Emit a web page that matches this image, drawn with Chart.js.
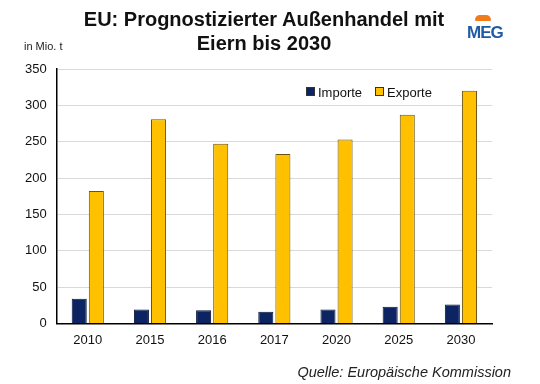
<!DOCTYPE html>
<html>
<head>
<meta charset="utf-8">
<script src="https://cdn.jsdelivr.net/npm/chart.js@4"></script>
<style>
  body { margin: 0; background: #fff; font-family: "Liberation Sans", Arial, sans-serif; }
  #wrap { position: relative; width: 540px; height: 384px; }
  #title { position: absolute; left: 0; width: 528px; top: 7px; text-align: center; font-weight: bold; font-size: 20px; line-height: 24px; color: #111; }
  #unit { position: absolute; left: 24px; top: 40px; font-size: 11px; color: #222; }
  #logo { position: absolute; left: 467px; top: 23px; font-size: 17px; font-weight: bold; color: #1f5aa6; letter-spacing: -1px; }
  #logo span { position: absolute; left: 8px; top: -8px; width: 16px; height: 6px; background: #f07c1e; border-radius: 8px 8px 2px 2px; }
  #legend { position: absolute; left: 306px; top: 85px; font-size: 13px; color: #111; }
  #legend i { display: inline-block; width: 7px; height: 7px; margin-right: 3px; border: 1px solid #333; vertical-align: 1px; }
  #legend b { font-weight: normal; margin-right: 13px; }
  #source { position: absolute; right: 29px; top: 364px; font-size: 14.5px; font-style: italic; color: #222; }
  canvas { position: absolute; left: 0; top: 0; }
</style>
</head>
<body>
<div id="wrap">
  <canvas id="chart" width="540" height="384"></canvas>
  <div id="title">EU: Prognostizierter Außenhandel mit<br>Eiern bis 2030</div>
  <div id="unit">in Mio. t</div>
  <div id="logo"><span></span>MEG</div>
  <div id="legend"></div>
  <div id="source">Quelle: Europäische Kommission</div>
</div>
<script>
const years = ['2010', '2015', '2016', '2017', '2020', '2025', '2030'];

const importe = [34, 19, 18, 16, 19, 23, 26];
const exporte = [182, 281, 247, 233, 253, 287, 320];

const yTicks = [0, 50, 100, 150, 200, 250, 300, 350];

const ctx = document.getElementById('chart').getContext('2d');

const chart = new Chart(ctx, {
  type: 'bar',
  data: {
    labels: years,
    datasets: [
      {
        label: 'Importe',
        data: importe,
        backgroundColor: '#0c2461',
        borderColor: '#061438',
        borderWidth: 1
      },
      {
        label: 'Exporte',
        data: exporte,
        backgroundColor: '#ffc000',
        borderColor: '#6b5410',
        borderWidth: 1
      }
    ]
  },
  options: {
    responsive: false,
    animation: false,
    layout: {
      padding: { top: 69, left: 15, right: 48, bottom: 27 }
    },
    datasets: {
      bar: { categoryPercentage: 0.55, barPercentage: 0.88 }
    },
    plugins: {
      legend: { display: false },
      tooltip: { enabled: false }
    },
    scales: {
      x: {
        grid: { display: false, drawTicks: false },
        border: { color: '#000', width: 1.5 },
        ticks: { color: '#111', padding: 9, font: { family: 'Liberation Sans', size: 13 } }
      },
      y: {
        min: 0,
        max: 350,
        afterBuildTicks: axis => { axis.ticks = yTicks.map(v => ({ value: v })); },
        grid: { color: '#d9d9d9', drawTicks: false },
        border: { color: '#000', width: 1.5 },
        ticks: { color: '#111', padding: 10, font: { family: 'Liberation Sans', size: 13 } }
      }
    }
  }
});

// legend in html, built from the datasets
document.getElementById('legend').innerHTML = chart.data.datasets
  .map(ds => '<i style="background:' + ds.backgroundColor + '"></i><b>' + ds.label + '</b>')
  .join('');
</script>
</body>
</html>
